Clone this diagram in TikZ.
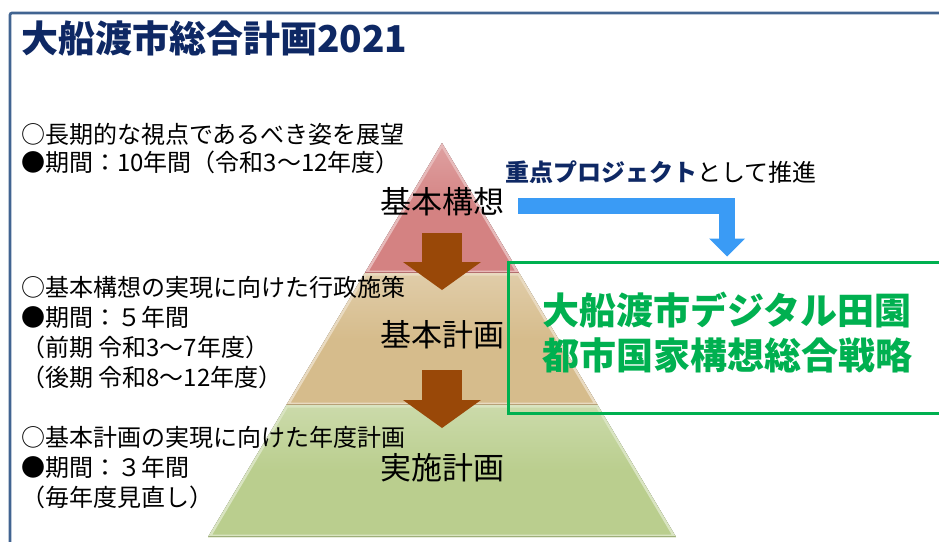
\documentclass[tikz,border=0pt]{standalone}
\usepackage{fontspec}
\setmainfont{Noto Sans CJK JP}
\usetikzlibrary{arrows.meta}
\definecolor{frameblue}{RGB}{65,100,145}
\definecolor{titleblue}{RGB}{14,40,100}
\definecolor{tierred}{RGB}{212,130,130}
\definecolor{tiertan}{RGB}{214,188,140}
\definecolor{tiergreen}{RGB}{186,206,142}
\definecolor{arrowbrown}{RGB}{153,72,8}
\definecolor{pushblue}{RGB}{58,155,245}
\definecolor{stratgreen}{RGB}{0,176,80}

\begin{document}
\begin{tikzpicture}[x=1pt,y=-1pt,
  plan/.style={inner sep=0pt,font=\fontsize{31}{31}\selectfont},
  note/.style={inner sep=0pt,anchor=west,align=left,font=\fontsize{24}{30}\selectfont},
  stepdown/.style={line width=40pt,color=arrowbrown,-{Triangle[width=78pt,length=28pt,line width=0pt]}},
  pusharrow/.style={line width=16pt,line join=miter,color=pushblue,-{Triangle[width=36pt,length=18pt,line width=0pt]}}]
\useasboundingbox (0,0) rectangle (939,541);
% frame
\draw[frameblue,line width=2.7pt,rounded corners=2pt] (10,545) |- (945,13);
% pyramid
\foreach \ya/\yb/\col in {143/273/tierred,273/405/tiertan,405/537/tiergreen}{
  \pgfmathsetmacro\wa{0.5939*(\ya-143)}
  \pgfmathsetmacro\wb{0.5939*(\yb-143)}
  \begin{scope}
    \clip (442-\wa,\ya) -- (442+\wa,\ya) -- (442+\wb,\yb) -- (442-\wb,\yb) -- cycle;
    \fill[top color=\col!75!white,bottom color=\col,middle color=\col] (442-\wb,\ya) rectangle (442+\wb,\yb);
    \draw[\col!55!white,line width=5pt] (442-\wa,\ya) -- (442+\wa,\ya) -- (442+\wb,\yb) -- (442-\wb,\yb) -- cycle;
    \draw[\col!85!black,line width=3pt] (442-\wb,\yb) -- (442+\wb,\yb);
  \end{scope}
}
% steps
\coordinate (stepA) at (442,233);
\coordinate (stepB) at (442,290);
\coordinate (stepC) at (442,370);
\coordinate (stepD) at (442,428);
\draw[stepdown] (stepA) -- (stepB);
\draw[stepdown] (stepC) -- (stepD);
% strategy
\node[draw=stratgreen,line width=3pt,minimum width=438pt,minimum height=151pt,inner sep=0pt] (box) at (727,337.5) {};
\coordinate (pushstart) at (518,205.5);
\draw[pusharrow] (pushstart) -| ([yshift=4pt]box.north);
% labels
\node[anchor=west,inner sep=0pt,font=\fontsize{37}{37}\selectfont\bfseries,text=titleblue] (title) at (21,38) {大船渡市総合計画2021};
\node[plan] (vision) at (442,202) {基本構想};
\node[plan] (basic) at (442,335) {基本計画};
\node[plan] (action) at (442,468) {実施計画};
\node[note,font=\fontsize{24}{28}\selectfont] (visionnote) at (21,149) {○長期的な視点であるべき姿を展望\\●期間：10年間（令和3〜12年度）};
\node[note] (basicnote) at (21,332.5) {○基本構想の実現に向けた行政施策\\●期間：５年間\\（前期 令和3〜7年度）\\（後期 令和8〜12年度）};
\node[note] (actionnote) at (21,468) {○基本計画の実現に向けた年度計画\\●期間：３年間\\（毎年度見直し）};
\node[inner sep=0pt,font=\fontsize{24}{24}\selectfont] (pushtext) at (661,172) {{\bfseries\color{titleblue}重点プロジェクト}として推進};
\node[inner sep=0pt,align=center,font=\fontsize{37}{45}\selectfont\bfseries,text=stratgreen] (strategy) at (727,332.5) {大船渡市デジタル田園\\都市国家構想総合戦略};
\end{tikzpicture}
\end{document}
